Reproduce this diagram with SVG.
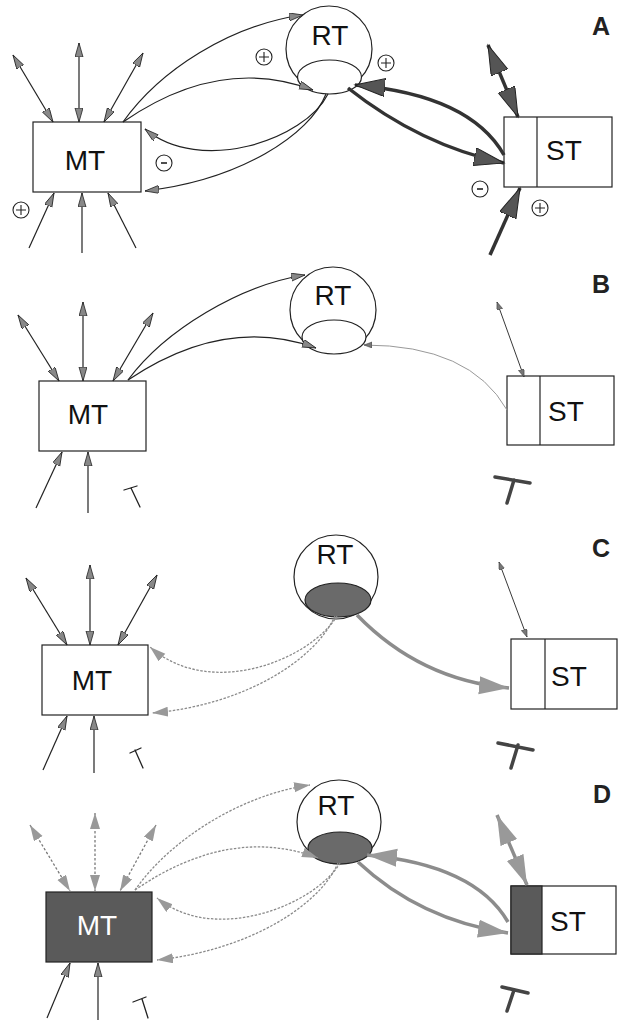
<svg xmlns="http://www.w3.org/2000/svg" xmlns:xlink="http://www.w3.org/1999/xlink" width="625" height="1022" viewBox="0 0 625 1022">
<style>
.box{fill:#fff;stroke:#222;stroke-width:1.2}
.boxd{fill:#5a5a5a;stroke:#222;stroke-width:1.2}
.circ{fill:#fff;stroke:#222;stroke-width:1.2}
.ell{fill:#fff;stroke:#222;stroke-width:1.2}
.elld{fill:#6a6a6a;stroke:#222;stroke-width:1.2}
.lbl{font-family:"Liberation Sans",Arial,sans-serif;font-size:28px;fill:#111;text-anchor:middle}
.lblw{font-family:"Liberation Sans",Arial,sans-serif;font-size:28px;fill:#fff;text-anchor:middle}
.pan{font-family:"Liberation Sans",Arial,sans-serif;font-size:25px;font-weight:bold;fill:#222;text-anchor:middle}
.thin{fill:none;stroke:#222;stroke-width:1.2}
.thinA{fill:none;stroke:#222;stroke-width:1.2;marker-end:url(#ah)}
.dbl{fill:none;stroke:#222;stroke-width:1.2;marker-start:url(#ah);marker-end:url(#ah)}
.dblS{fill:none;stroke:#222;stroke-width:0.9;marker-start:url(#ahs);marker-end:url(#ahs)}
.dotA{fill:none;stroke:#8a8a8a;stroke-width:1.3;stroke-dasharray:2.5 1.5;marker-end:url(#ahg)}
.dotD{fill:none;stroke:#7a7a7a;stroke-width:1.3;stroke-dasharray:2.5 2;marker-start:url(#ahg);marker-end:url(#ahg)}
.greyThin{fill:none;stroke:#999;stroke-width:1;marker-end:url(#ahs)}
.thick{fill:none;stroke:#333;stroke-width:3.5;marker-end:url(#big)}
.thickD{fill:none;stroke:#333;stroke-width:3.5;marker-start:url(#big);marker-end:url(#big)}
.gthick{fill:none;stroke:#8c8c8c;stroke-width:3.5;marker-end:url(#bigg)}
.gthickD{fill:none;stroke:#8c8c8c;stroke-width:3.5;marker-start:url(#bigg);marker-end:url(#bigg)}
.inh{fill:none;stroke:#222;stroke-width:1.3;stroke-linecap:round}
.inhB{fill:none;stroke:#444;stroke-width:3.5;stroke-linecap:round}
.sym{fill:#fff;stroke:#222;stroke-width:1.1}
</style>
<defs>
<marker id="ah" markerUnits="userSpaceOnUse" markerWidth="16" markerHeight="10" refX="14" refY="4" orient="auto-start-reverse" viewBox="0 0 16 10"><path d="M0,0 L14,4 L0,8 z" fill="#888" stroke="#222" stroke-width="0.8"/></marker>
<marker id="ahs" markerUnits="userSpaceOnUse" markerWidth="9" markerHeight="7" refX="8" refY="3" orient="auto-start-reverse" viewBox="0 0 9 7"><path d="M0,0 L8,3 L0,6 z" fill="#777" stroke="#333" stroke-width="0.5"/></marker>
<marker id="ahg" markerUnits="userSpaceOnUse" markerWidth="18" markerHeight="11" refX="16" refY="5" orient="auto-start-reverse" viewBox="0 0 18 11"><path d="M0,0 L16,5 L0,10 z" fill="#999"/></marker>
<marker id="big" markerUnits="userSpaceOnUse" markerWidth="32" markerHeight="20" refX="30" refY="9" orient="auto-start-reverse" viewBox="0 0 32 20"><path d="M0,0 L30,9 L0,18 z" fill="#555" stroke="#222" stroke-width="1"/></marker>
<marker id="bigg" markerUnits="userSpaceOnUse" markerWidth="32" markerHeight="20" refX="30" refY="9" orient="auto-start-reverse" viewBox="0 0 32 20"><path d="M0,0 L30,9 L0,18 z" fill="#999"/></marker>
<g id="plus"><circle r="8" class="sym"/><path d="M-5,0 H5 M0,-5 V5" stroke="#222" stroke-width="1.1"/></g>
<g id="minus"><circle r="8" class="sym"/><path d="M-3,0 H3" stroke="#222" stroke-width="1.6"/></g>
</defs>

<!-- Panel A -->
<g id="A-MT"><rect x="33" y="122" width="108" height="70" class="box"/><text x="85" y="170" class="lbl">MT</text></g>
<g id="A-RT"><circle cx="329" cy="49" r="43" class="circ"/><ellipse cx="329.5" cy="77" rx="32" ry="17" class="ell"/><text x="330" y="45" class="lbl">RT</text></g>
<g id="A-ST"><rect x="504" y="117" width="108" height="70" class="box"/><line x1="537" y1="117" x2="537" y2="187" class="thin"/><text x="564" y="160" class="lbl">ST</text></g>
<g id="A-label"><text x="601" y="35" class="pan">A</text></g>
<g id="A-signs">
<use xlink:href="#plus" x="21" y="210"/>
<use xlink:href="#plus" x="264" y="57"/>
<use xlink:href="#minus" x="164" y="163"/>
<use xlink:href="#plus" x="386" y="63"/>
<use xlink:href="#minus" x="480" y="189"/>
<use xlink:href="#plus" x="540" y="208"/>
</g>
<g id="A-connectors">
<line x1="13" y1="55" x2="53" y2="122" class="dbl"/>
<line x1="79" y1="43" x2="79" y2="122" class="dbl"/>
<line x1="143" y1="53" x2="104" y2="122" class="dbl"/>
<line x1="29" y1="248" x2="54" y2="193" class="thinA"/>
<line x1="82" y1="253" x2="82" y2="193" class="thinA"/>
<line x1="136" y1="248" x2="108" y2="193" class="thinA"/>
<path d="M123,122 C160,70 230,25 303,15" class="thinA"/>
<path d="M123,122 Q220,55 313,90" class="thinA"/>
<path d="M328,94 C305,140 200,175 145,129" class="thinA"/>
<path d="M326,94 C310,135 240,180 145,191" class="thinA"/>
<path d="M348,88 Q420,145 504,163" class="thick"/>
<path d="M504,155 Q470,95 355,85" class="thick"/>
<line x1="488" y1="45" x2="518" y2="117" class="thickD"/>
<line x1="490" y1="255" x2="520" y2="188" class="thick"/>
</g>

<!-- Panel B -->
<g id="B-MT"><rect x="39" y="381" width="107" height="70" class="box"/><text x="88" y="424" class="lbl">MT</text></g>
<g id="B-RT"><circle cx="333" cy="310" r="43" class="circ"/><ellipse cx="334" cy="337" rx="32" ry="17" class="ell"/><text x="333" y="305" class="lbl">RT</text></g>
<g id="B-ST"><rect x="507" y="376" width="107" height="69" class="box"/><line x1="540" y1="376" x2="540" y2="445" class="thin"/><text x="566" y="421" class="lbl">ST</text></g>
<g id="B-label"><text x="601" y="293" class="pan">B</text></g>
<g id="B-inhibit">
<path d="M140,507 L131,488 M124,490 L137,486" class="inh"/>
<path d="M507,503 L514,480 M495,477 L530,483" class="inhB"/>
</g>
<g id="B-connectors">
<line x1="18" y1="315" x2="59" y2="381" class="dbl"/>
<line x1="83" y1="302" x2="83" y2="381" class="dbl"/>
<line x1="153" y1="313" x2="113" y2="381" class="dbl"/>
<line x1="36" y1="508" x2="62" y2="452" class="thinA"/>
<line x1="88" y1="513" x2="88" y2="452" class="thinA"/>
<path d="M128,380 C165,330 240,285 305,275" class="thinA"/>
<path d="M128,380 Q225,315 316,348" class="thinA"/>
<path d="M507,410 Q470,345 364,345" class="greyThin"/>
<line x1="497" y1="302" x2="524" y2="377" class="dblS"/>
</g>

<!-- Panel C -->
<g id="C-MT"><rect x="42" y="645" width="106" height="70" class="box"/><text x="92" y="690" class="lbl">MT</text></g>
<g id="C-RT"><circle cx="336" cy="577" r="42" class="circ"/><ellipse cx="338" cy="600" rx="33" ry="17" class="elld"/><text x="335" y="564" class="lbl">RT</text></g>
<g id="C-ST"><rect x="511" y="639" width="106" height="70" class="box"/><line x1="545" y1="639" x2="545" y2="709" class="thin"/><text x="569" y="686" class="lbl">ST</text></g>
<g id="C-label"><text x="601" y="557" class="pan">C</text></g>
<g id="C-inhibit">
<path d="M143,768 L135,750 M130,753 L141,748" class="inh"/>
<path d="M511,768 L518,745 M498,743 L533,750" class="inhB"/>
</g>
<g id="C-connectors">
<line x1="26" y1="578" x2="67" y2="645" class="dbl"/>
<line x1="90" y1="565" x2="90" y2="645" class="dbl"/>
<line x1="157" y1="575" x2="118" y2="645" class="dbl"/>
<line x1="43" y1="770" x2="67" y2="716" class="thinA"/>
<line x1="94" y1="773" x2="94" y2="716" class="thinA"/>
<path d="M337,616 C310,660 210,700 150,647" class="dotA"/>
<path d="M335,616 C315,660 245,705 152,713" class="dotA"/>
<path d="M357,615 Q420,680 509,688" class="gthick"/>
<line x1="499" y1="562" x2="527" y2="637" class="dblS"/>
</g>

<!-- Panel D -->
<g id="D-MT"><rect x="46" y="892" width="106" height="70" class="boxd"/><text x="97" y="935" class="lblw">MT</text></g>
<g id="D-RT"><circle cx="339" cy="822" r="42" class="circ"/><ellipse cx="340" cy="848" rx="32" ry="16" class="elld"/><text x="336" y="815" class="lbl">RT</text></g>
<g id="D-ST"><rect x="511" y="886" width="105" height="68" class="box"/><rect x="511" y="886" width="31" height="68" class="boxd"/><text x="568" y="931" class="lbl">ST</text></g>
<g id="D-label"><text x="602" y="803" class="pan">D</text></g>
<g id="D-inhibit">
<path d="M148,1018 L142,999 M133,1002 L146,997" class="inh"/>
<path d="M507,1011 L514,990 M502,987 L528,993" class="inhB"/>
</g>
<g id="D-connectors">
<line x1="30" y1="825" x2="70" y2="891" class="dotD"/>
<line x1="95" y1="813" x2="95" y2="891" class="dotD"/>
<line x1="156" y1="825" x2="120" y2="891" class="dotD"/>
<line x1="47" y1="1018" x2="70" y2="963" class="thinA"/>
<line x1="98" y1="1020" x2="98" y2="963" class="thinA"/>
<path d="M135,890 C170,840 240,795 310,785" class="dotA"/>
<path d="M135,890 Q230,825 318,858" class="dotA"/>
<path d="M340,863 C315,905 215,945 157,898" class="dotA"/>
<path d="M338,863 C320,905 250,950 157,960" class="dotA"/>
<path d="M358,862 Q420,920 508,933" class="gthick"/>
<path d="M508,922 Q475,865 367,855" class="gthick"/>
<line x1="497" y1="815" x2="527" y2="885" class="gthickD"/>
</g>
</svg>
